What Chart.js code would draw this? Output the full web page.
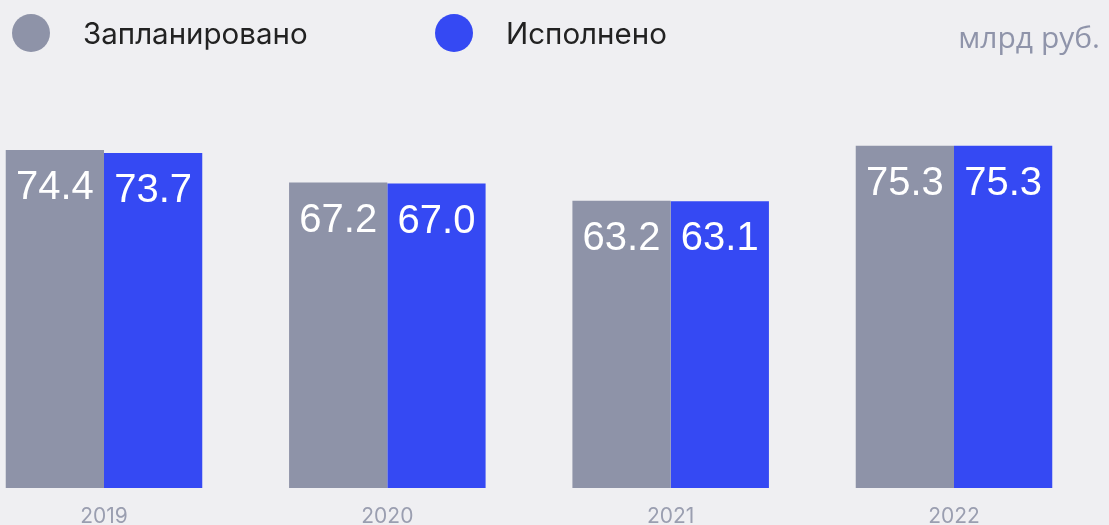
<!DOCTYPE html>
<html>
<head>
<meta charset="utf-8">
<script src="https://cdn.jsdelivr.net/npm/chart.js@4"></script>
<style>
  html, body { margin: 0; padding: 0; background: #efeff2; overflow: hidden; }
  #wrap { position: relative; width: 1109px; height: 525px; overflow: hidden; }
  #chart { position: absolute; left: 0; top: 0; }
  .legend-item { position: absolute; top: 14px; height: 38px; display: flex; align-items: center;
    font-family: Inter, "Noto Sans", sans-serif; font-size: 29.5px; color: #222; }
  .legend-item .dot { width: 38px; height: 38px; border-radius: 50%; margin-right: 33px; }
  .unit { position: absolute; right: 9px; top: 16px; font-family: "Open Sans", sans-serif;
    font-size: 30px; color: #8f94aa; }
</style>
</head>
<body>
<div id="wrap">
  <canvas id="chart" width="1109" height="556"></canvas>
  <div class="legend-item" style="left:12px"><span class="dot" style="background:#8e93a8"></span>Запланировано</div>
  <div class="legend-item" style="left:435px"><span class="dot" style="background:#3549f3"></span>Исполнено</div>
  <div class="unit">млрд руб.</div>
</div>
<script>
const years = ['2019', '2020', '2021', '2022'];
const planned = [74.4, 67.2, 63.2, 75.3];
const executed = [73.7, 67.0, 63.1, 75.3];

// white value labels inside top of each bar
const valueLabels = {
  id: 'valueLabels',
  afterDatasetsDraw(chart) {
    const ctx = chart.ctx;
    ctx.save();
    ctx.fillStyle = '#ffffff';
    ctx.font = '40px "Liberation Sans", Arial, sans-serif';
    ctx.textAlign = 'center';
    ctx.textBaseline = 'middle';
    chart.data.datasets.forEach((ds, i) => {
      chart.getDatasetMeta(i).data.forEach((bar, j) => {
        ctx.fillText(ds.data[j].toFixed(1), bar.x, bar.y + 38);
      });
    });
    ctx.restore();
  }
};

document.addEventListener("DOMContentLoaded", function () {
  new Chart(document.getElementById('chart').getContext('2d'), {
    type: 'bar',
    data: {
      labels: years,
      datasets: [{
        label: 'Запланировано', data: planned, backgroundColor: '#8e93a8', clip: false
      }, {
        label: 'Исполнено', data: executed, backgroundColor: '#3549f3', clip: false
      }]
    },
    options: {
      responsive: false, animation: false,
      layout: { padding: { left: 104, right: 155, top: 99, bottom: 10.8 } },
      categoryPercentage: 0.6936, barPercentage: 1,
      scales: {
        x: {
          offset: false,
          grid: { display: false, drawTicks: false },
          border: { display: false },
          ticks: { color: '#9a9eb0', padding: 16, font: { family: 'Inter', size: 21 } }
        },
        y: { display: false, min: 0, max: 85.6 }
      },
      plugins: { legend: { display: false }, tooltip: { enabled: false } }
    },
    plugins: [valueLabels]
  });
});
</script>
</body>
</html>
